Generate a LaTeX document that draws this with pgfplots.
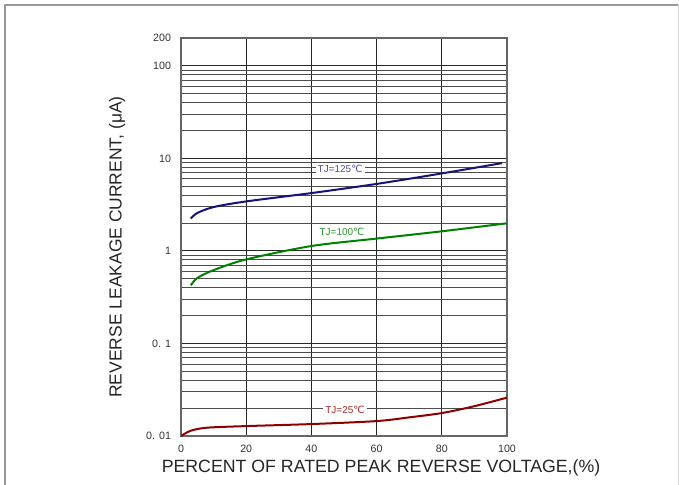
\documentclass[border=0pt]{standalone}
\usepackage{fontspec}
\setmainfont{Liberation Sans}
\newfontfamily\dejavu{DejaVu Sans}
\usepackage{pgfplots}
\pgfplotsset{compat=1.18}
\definecolor{c125}{RGB}{20,20,120}
\definecolor{c100}{RGB}{0,128,0}
\definecolor{c25}{RGB}{140,0,0}
\definecolor{t125}{RGB}{80,80,160}
\definecolor{t100}{RGB}{40,150,40}
\definecolor{t25}{RGB}{170,40,40}
\newcommand{\degC}{{\dejavu ℃}}
\begin{document}
\begin{tikzpicture}
\useasboundingbox (0,0) rectangle (509.25pt,-363.75pt);
\fill[white] (0,0) rectangle (509.25pt,-363.75pt);
% outer frame
\draw[black!40, line width=2.2pt] (3pt,-3.75pt) -- (509.25pt,-3.75pt);
\draw[black!40, line width=1.5pt] (3.75pt,-3pt) -- (3.75pt,-363.75pt);
\draw[black!15, line width=0.75pt] (508.5pt,-3pt) -- (508.5pt,-363.75pt);

\begin{axis}[
  at={(135.75pt,-327pt)}, anchor=south west,
  scale only axis, width=244.5pt, height=298.5pt,
  xmin=0, xmax=100, ymode=log, ymin=0.01, ymax=200,
  xtick={0,20,40,60,80,100},
  ytick={0.01,0.1,1,10,100,200},
  yticklabels={0. 01,0. 1,1,10,100,200},
  minor ytick={0.02,0.03,0.04,0.05,0.06,0.07,0.08,0.09,
               0.2,0.3,0.4,0.5,0.6,0.7,0.8,0.9,
               2,3,4,5,6,7,8,9,
               20,30,40,50,60,70,80,90},
  grid=both,
  major grid style={black!85, line width=0.7pt},
  minor grid style={black!70, line width=0.7pt},
  tick style={draw=none},
  axis line style={black!60, line width=1pt},
  /pgf/number format/assume math mode=true,
  tick label style={font=\fontsize{8}{9}\selectfont, text=black!80},
  xticklabel style={yshift=-3.5pt},
  yticklabel style={xshift=-4pt},
]
\addplot[c125, line width=1.5pt, smooth] coordinates {
(3,2.24) (5,2.57) (10,2.98) (20,3.43) (40,4.22) (60,5.3) (80,6.88) (98.5,8.9)
};
\addplot[c100, line width=1.5pt, smooth] coordinates {
(3,0.425) (5,0.51) (10,0.62) (20,0.81) (40,1.13) (60,1.36) (80,1.63) (100,1.99)
};
\addplot[c25, line width=1.5pt, smooth] coordinates {
(0,0.0100) (3,0.0114) (8,0.0123) (20,0.0128) (40,0.01346) (60,0.0145) (70,0.0159) (80,0.0177) (90,0.021) (100,0.026)
};
\node[fill=white, inner sep=1.5pt, text=t125, font=\fontsize{7.5}{8}\selectfont] at (axis cs:48.8,7.7) {TJ=125\degC};
\node[fill=white, inner sep=1.5pt, text=t100, font=\fontsize{7.5}{8}\selectfont] at (axis cs:49.4,1.61) {TJ=100\degC};
\node[fill=white, inner sep=1.5pt, text=t25, font=\fontsize{7.5}{8}\selectfont] at (axis cs:50.3,0.0193) {TJ=25\degC};
\end{axis}

\node[font=\fontsize{13.3}{14}\selectfont, text=black!85] at (285.75pt,-351pt) {PERCENT OF RATED PEAK REVERSE VOLTAGE,(\%)};
\node[font=\fontsize{13.1}{14}\selectfont, text=black!85, rotate=90] at (87.75pt,-185.25pt) {REVERSE LEAKAGE CURRENT, (μA)};
\end{tikzpicture}
\end{document}
